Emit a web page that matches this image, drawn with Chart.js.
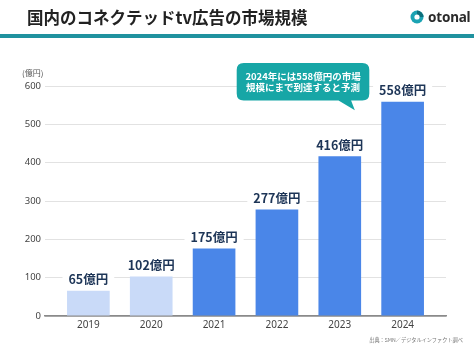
<!DOCTYPE html>
<html><head><meta charset="utf-8">
<script src="https://cdn.jsdelivr.net/npm/chart.js@4/dist/chart.umd.min.js"></script>
<style>
html,body{margin:0;padding:0;background:#fff;}
#wrap{position:relative;width:474px;height:355px;overflow:hidden;background:#fff;font-family:"Noto Sans CJK JP","Noto Sans",sans-serif;}
#c{position:absolute;left:0;top:0;}
#title{position:absolute;left:27px;top:6px;font-size:16.5px;font-weight:bold;color:#222;white-space:nowrap;line-height:22px;}
#bar{position:absolute;left:0;top:34px;width:474px;height:4px;background:#1f929f;}
#logo{position:absolute;left:410px;top:8px;height:18px;display:flex;align-items:center;}
#logo span{font-family:"Noto Sans",sans-serif;font-weight:bold;font-size:13.5px;color:#2a2a2a;margin-left:4px;letter-spacing:-0.2px;}
#unit{position:absolute;left:22px;top:67px;font-size:8px;color:#555;white-space:nowrap;}
#src{position:absolute;right:11px;top:336px;font-size:5.2px;color:#777;white-space:nowrap;}
</style></head>
<body><div id="wrap">
<canvas id="c" width="474" height="355"></canvas>
<div id="title">国内のコネクテッドtv広告の市場規模</div>
<div id="bar"></div>
<div id="logo"><svg width="14" height="14" viewBox="0 0 14 14"><circle cx="7" cy="7" r="6.5" fill="#1ba3b3"/><path d="M7 7 L13.5 7 A6.5 6.5 0 0 0 7 0.5 Z" fill="#0d6f7c"/><circle cx="7" cy="7" r="2.6" fill="#fff"/></svg><span>otonal</span></div>
<div id="unit">(億円)</div>
<div id="src">出典：SMN／デジタルインファクト調べ</div>
</div>
<script>
const years = ['2019','2020','2021','2022','2023','2024'];
const values = [65,102,175,277,416,558];
const barColors = ['#c9daf8','#c9daf8','#4a86e8','#4a86e8','#4a86e8','#4a86e8'];
const yTickValues = [0,100,200,300,400,500,600];
const unitSuffix = '億円';
const calloutLines = ['2024年には558億円の市場','規模にまで到達すると予測'];

const labelPlugin = {
  id:'vlabels',
  afterDatasetsDraw(chart){
    const ctx = chart.ctx;
    const meta = chart.getDatasetMeta(0);
    ctx.save();
    ctx.font = 'bold 12.5px "Noto Sans CJK JP", sans-serif';
    ctx.textAlign='center'; ctx.textBaseline='middle';
    meta.data.forEach((el,i)=>{
      const t = values[i] + unitSuffix;
      const w = ctx.measureText(t).width;
      const y = el.y - 12;
      ctx.fillStyle='#fff';
      ctx.fillRect(el.x - w/2 - 6, y - 8, w + 12, 16);
      ctx.fillStyle='#1d3557';
      ctx.fillText(t, el.x, y+0.5);
    });
    ctx.restore();
  }
};

const calloutPlugin = {
  id:'callout',
  afterDraw(chart){
    const x = chart.scales.x, y = chart.scales.y, ctx = chart.ctx;
    const L = x.getPixelForValue(2.36), R = x.getPixelForValue(4.47);
    const T = y.getPixelForValue(660), B = y.getPixelForValue(562);
    const tipX = x.getPixelForValue(4.24), tipY = y.getPixelForValue(537);
    const t1 = x.getPixelForValue(3.98), t2 = x.getPixelForValue(4.18);
    const r = 7;
    ctx.save();
    ctx.fillStyle='#17a6a6';
    ctx.beginPath();
    ctx.moveTo(L+r,T);
    ctx.lineTo(R-r,T); ctx.quadraticCurveTo(R,T,R,T+r);
    ctx.lineTo(R,B-r); ctx.quadraticCurveTo(R,B,R-r,B);
    ctx.lineTo(t2,B); ctx.lineTo(tipX,tipY); ctx.lineTo(t1,B);
    ctx.lineTo(L+r,B); ctx.quadraticCurveTo(L,B,L,B-r);
    ctx.lineTo(L,T+r); ctx.quadraticCurveTo(L,T,L+r,T);
    ctx.closePath(); ctx.fill();
    ctx.fillStyle='#fff';
    ctx.font='bold 9.5px "Noto Sans CJK JP", sans-serif';
    ctx.textAlign='center'; ctx.textBaseline='middle';
    const cx=(L+R)/2, cy=(T+B)/2;
    ctx.fillText(calloutLines[0], cx, cy-5);
    ctx.fillText(calloutLines[1], cx, cy+6);
    ctx.restore();
  }
};

new Chart(document.getElementById('c'),{
  type:'bar',
  data:{datasets:[{
    data: values.map((v,i)=>({x:i,y:v})),
    backgroundColor: barColors,
    borderWidth:0,
    barThickness:42
  }]},
  options:{
    responsive:false, animation:false,
    layout:{padding:{left:0,right:28,top:86,bottom:0}},
    plugins:{legend:{display:false},tooltip:{enabled:false}},
    scales:{
      x:{
        type:'linear', min:-0.69, max:5.69, offset:false,
        afterBuildTicks(s){ s.ticks = years.map((_,i)=>({value:i})); },
        afterFit(s){ s.height = 39; },
        grid:{display:false, drawTicks:false},
        border:{display:true,color:'#8a8a8a',width:1.5},
        ticks:{padding:3,color:'#444',font:{size:10,family:'"Noto Sans","DejaVu Sans",sans-serif'},
          callback:(v)=>years[v] ?? '', autoSkip:false, maxRotation:0}
      },
      y:{
        min:0,max:600,
        afterBuildTicks(s){ s.ticks = yTickValues.map(v=>({value:v})); },
        afterFit(s){ s.width = 45; },
        grid:{drawTicks:false,color:(c)=>c.tick && c.tick.value===0 ? '#8a8a8a' : '#e2e2e2',lineWidth:(c)=>c.tick && c.tick.value===0?1.5:1},
        border:{display:false},
        ticks:{padding:4,color:'#444',font:{size:9.5,family:'"Noto Sans","DejaVu Sans",sans-serif'}}
      }
    }
  },
  plugins:[labelPlugin, calloutPlugin]
});
</script>
</body></html>
